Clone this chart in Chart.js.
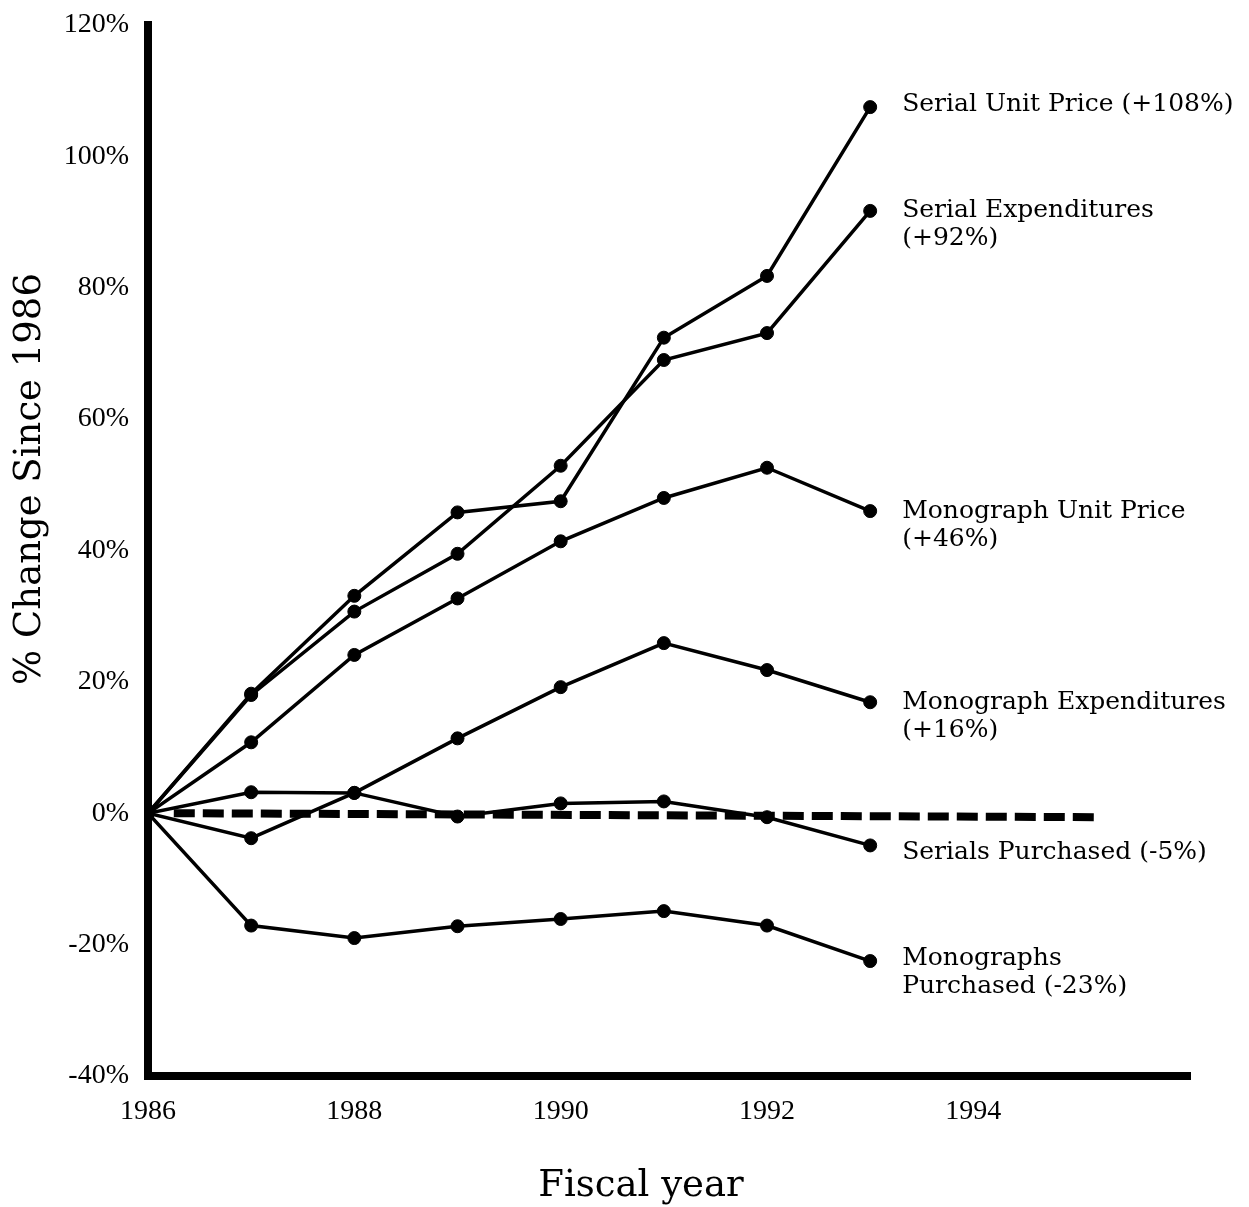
<!DOCTYPE html>
<html><head><meta charset="utf-8">
<script src="https://cdn.jsdelivr.net/npm/chart.js@4/dist/chart.umd.min.js"></script>
<style>html,body{margin:0;padding:0;background:#fff;overflow:hidden}</style>
</head><body>
<canvas id="c" width="1249" height="1207"></canvas>
<script>
// ---- data ----
const years = [1986, 1987, 1988, 1989, 1990, 1991, 1992, 1993];
const serialUnitPrice       = [0, 18.2, 33.1, 45.8, 47.5, 72.4, 81.8, 107.5];
const serialExpenditures    = [0, 18.0, 30.7, 39.5, 52.9, 69.0, 73.1, 91.7];
const monographUnitPrice    = [0, 10.8, 24.1, 32.7, 41.4, 48.0, 52.6, 46.0];
const monographExpenditures = [0, -3.8, 3.1, 11.4, 19.2, 25.9, 21.8, 16.9];
const serialsPurchased      = [0, 3.2, 3.1, -0.5, 1.5, 1.8, -0.6, -4.9];
const monographsPurchased   = [0, -17.1, -19.0, -17.2, -16.1, -14.9, -17.1, -22.5];
const baselineYears  = [1986.25, 1995.2];
const baselineValues = [0, -0.6];
const seriesLabels = [
  ["Serial Unit Price (+108%)"],
  ["Serial Expenditures", "(+92%)"],
  ["Monograph Unit Price", "(+46%)"],
  ["Monograph Expenditures", "(+16%)"],
  ["Serials Purchased (-5%)"],
  ["Monographs", "Purchased (-23%)"]
];
const seriesValues = [serialUnitPrice, serialExpenditures, monographUnitPrice,
  monographExpenditures, serialsPurchased, monographsPurchased];
const xTickYears = [1986, 1988, 1990, 1992, 1994];
const yTickValues = [-40, -20, 0, 20, 40, 60, 80, 100, 120];
const xAxisTitle = "Fiscal year";
const yAxisTitle = "% Change Since 1986";

// ---- styles ----
const labelDy = [-3, 0, 0, 0, 7, -3];
const annFont = '25px "DejaVu Serif"';

const datasets = seriesValues.map((vals, i) => ({
  label: seriesLabels[i].join(' '),
  data: years.map((x, k) => ({ x: x, y: vals[k] })),
  borderColor: '#000', backgroundColor: '#000', borderWidth: 3.5,
  pointRadius: 6.5, pointBorderWidth: 1, pointBackgroundColor: '#000',
  pointBorderColor: '#000', tension: 0, fill: false
}));
datasets.push({
  label: 'baseline',
  data: baselineYears.map((x, k) => ({ x: x, y: baselineValues[k] })),
  borderColor: '#000', borderWidth: 8, borderDash: [21, 8],
  pointRadius: 0, tension: 0, fill: false
});

const annotate = {
  id: 'annotate',
  afterDatasetsDraw(chart) {
    const ctx = chart.ctx;
    ctx.save();
    ctx.fillStyle = '#000';
    ctx.font = annFont;
    ctx.textAlign = 'left';
    ctx.textBaseline = 'middle';
    seriesLabels.forEach((lines, i) => {
      const meta = chart.getDatasetMeta(i);
      const pt = meta.data[meta.data.length - 1];
      lines.forEach((t, j) => ctx.fillText(t, pt.x + 32, pt.y + labelDy[i] + j * 28));
    });
    // axis titles
    ctx.font = '37px "DejaVu Serif"';
    ctx.textAlign = 'center';
    ctx.textBaseline = 'alphabetic';
    ctx.fillText(xAxisTitle, 641, 1196);
    ctx.translate(40, 479);
    ctx.rotate(-Math.PI / 2);
    ctx.fillText(yAxisTitle, 0, 0);
    ctx.restore();
  }
};

function noPad(s) {
  s.paddingTop = 0; s.paddingBottom = 0; s.paddingLeft = 0; s.paddingRight = 0;
}

new Chart(document.getElementById('c'), {
  type: 'line',
  data: { datasets },
  plugins: [annotate],
  options: {
    responsive: false, animation: false,
    layout: { padding: { top: 25, right: 59, bottom: 71, left: 0 } },
    plugins: { legend: { display: false }, tooltip: { enabled: false }, title: { display: false } },
    scales: {
      x: {
        type: 'linear', min: 1986, max: 1996.1,
        afterBuildTicks: s => { s.ticks = xTickYears.map(v => ({ value: v })); },
        afterFit: s => { s.height = 60; noPad(s); },
        grid: { display: false, drawTicks: false },
        border: { display: true, color: '#000', width: 8 },
        ticks: { color: '#000', font: { family: '"Liberation Serif"', size: 28 }, padding: 19, maxRotation: 0, callback: v => String(v) }
      },
      y: {
        type: 'linear', min: -40, max: 120,
        afterBuildTicks: s => { s.ticks = yTickValues.map(v => ({ value: v })); },
        afterFit: s => { s.width = 148; noPad(s); },
        grid: { display: false, drawTicks: false },
        border: { display: true, color: '#000', width: 8 },
        ticks: { color: '#000', font: { family: '"Liberation Serif"', size: 28 }, padding: 19, callback: v => v + '%' }
      }
    }
  }
});
</script>
</body></html>
